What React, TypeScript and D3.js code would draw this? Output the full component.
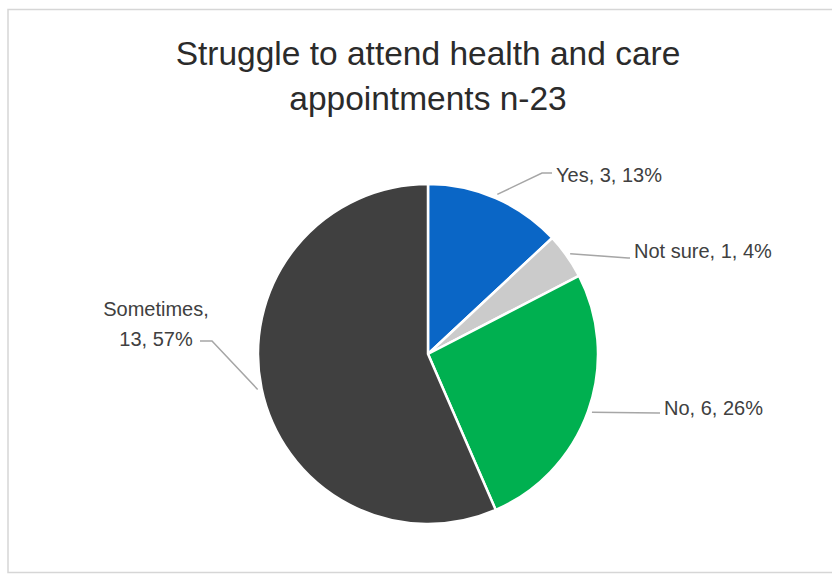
import React from "react";
import * as d3 from "d3";

const categories = ["Yes", "Not sure", "No", "Sometimes"];
const counts = [3, 1, 6, 13];
const percentLabels = ["13%", "4%", "26%", "57%"];
const colors = ["#0A66C6", "#CBCBCB", "#00B050", "#404040"];
const titleLines = ["Struggle to attend health and care", "appointments n-23"];

// label layout: anchor offsets relative to pie centre (layout, not data)
const labelLayout = [
  { tx: 128, ty: -179, anchor: "start", elbow: [114, -181], lines: 1 },
  { tx: 206, ty: -103, anchor: "start", elbow: [200, -96], lines: 1 },
  { tx: 236, ty: 54, anchor: "start", elbow: [230, 59], lines: 1 },
  { tx: -272, ty: -39, anchor: "middle", elbow: [-216, -13], lines: 2 },
];

const W = 832;
const H = 581;
const cx = 428;
const cy = 354;
const R = 170;
const FONT = "'Liberation Sans', Arial, sans-serif";

export default function App() {
  const pie = d3.pie<number>().sort(null).startAngle(0).endAngle(2 * Math.PI)(counts);
  const arc = d3.arc<d3.PieArcDatum<number>>().innerRadius(0).outerRadius(R);
  const lineGen = d3.line();

  return (
    <svg
      width={W}
      height={H}
      style={{ position: "absolute", left: 0, top: 0, background: "#fff" }}
    >
      <rect x={8} y={9.5} width={840} height={563} fill="#fff" stroke="#d6d6d6" strokeWidth={1.5} />
      {titleLines.map((t, i) => (
        <text
          key={i}
          x={cx}
          y={65 + i * 45}
          textAnchor="middle"
          fontFamily={FONT}
          fontSize={33.5}
          fill="#2b2b2b"
        >
          {t}
        </text>
      ))}
      <g transform={`translate(${cx},${cy})`}>
        {pie.map((d, i) => (
          <path key={i} d={arc(d) || ""} fill={colors[i]} stroke="#fff" strokeWidth={2.5} strokeLinejoin="round" />
        ))}
        {pie.map((d, i) => {
          const mid = (d.startAngle + d.endAngle) / 2;
          const rr = R + 4;
          const p0: [number, number] = [Math.sin(mid) * rr, -Math.cos(mid) * rr];
          const L = labelLayout[i];
          const p1: [number, number] = [L.elbow[0], L.elbow[1]];
          const endX = L.anchor === "start" ? L.tx - 4 : L.tx + 44;
          const p2: [number, number] = [endX, L.elbow[1]];
          const pts = L.anchor === "start" ? [p0, p1, p2] : [p0, p1, [L.tx + 44, L.elbow[1]] as [number, number]];
          return (
            <path key={"l" + i} d={lineGen(pts) || ""} fill="none" stroke="#a6a6a6" strokeWidth={1.5} />
          );
        })}
        {pie.map((d, i) => {
          const L = labelLayout[i];
          const common = {
            fontFamily: FONT,
            fontSize: 20,
            fill: "#404040",
          } as const;
          if (L.lines === 2) {
            return (
              <text key={"t" + i} x={0} y={0} textAnchor="middle" {...common}>
                <tspan x={-R - 102} y={-38}>{`${categories[i]},`}</tspan>
                <tspan x={-R - 102} y={-8}>{`${counts[i]}, ${percentLabels[i]}`}</tspan>
              </text>
            );
          }
          return (
            <text key={"t" + i} x={L.tx} y={L.ty + 7} textAnchor="start" {...common}>
              {`${categories[i]}, ${counts[i]}, ${percentLabels[i]}`}
            </text>
          );
        })}
      </g>
    </svg>
  );
}
